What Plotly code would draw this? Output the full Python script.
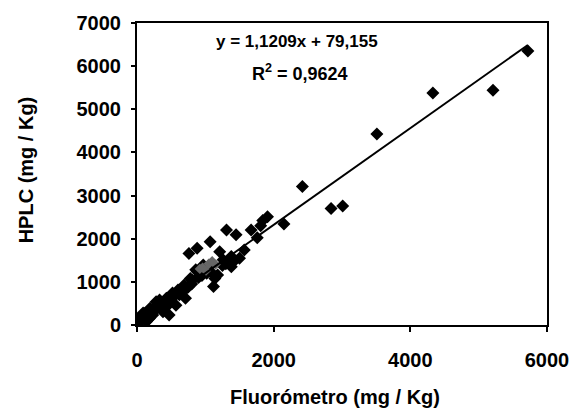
import plotly.graph_objects as go

# Data (Fluorómetro vs HPLC, mg/Kg)
fluor_x = [5720, 5210, 4330, 3510, 3010, 2840, 2420, 2150, 1910, 1840, 1810, 1670,
           1760, 1570, 1450, 1310, 1500, 1380, 1380, 1260, 1210, 1070, 880, 760,
           1070, 970, 880, 1020, 1140, 1120, 780, 690, 1180, 860, 810, 660, 520,
           430, 280, 190, 120, 70, 140, 380, 570, 710, 470, 330, 230, 90, 40, 600,
           950, 1000, 1050, 1100, 920, 30, 60, 200, 250,
           300, 350, 420, 500, 550, 620, 680, 750, 800, 900, 950, 150, 200, 100,
           180, 260, 450, 1300, 1420, 1250]
hplc_y = [6350, 5440, 5380, 4430, 2760, 2700, 3210, 2340, 2510, 2420, 2300, 2200,
          2020, 1740, 2090, 2200, 1550, 1590, 1350, 1510, 1700, 1930, 1780, 1660,
          1390, 1390, 1240, 1200, 1080, 890, 1080, 930, 1160, 1280, 1040, 850, 740,
          620, 540, 390, 270, 120, 80, 310, 460, 620, 230, 580, 230, 280, 80, 810,
          1300, 1250, 1350, 1200, 1150, 150, 200, 200, 330,
          400, 500, 520, 600, 680, 700, 780, 880, 950, 1100, 1150, 300, 300, 150,
          150, 420, 450, 1420, 1480, 1380]

# overlapping core of the dense cluster (appears grey in the scan)
core_x = [960, 1010, 1050, 920, 1100, 1150]
core_y = [1330, 1260, 1420, 1300, 1480, 1400]

slope = 1.1209
intercept = 79.155
r2 = 0.9624

x_ticks = [0, 2000, 4000, 6000]
y_ticks = [0, 1000, 2000, 3000, 4000, 5000, 6000, 7000]

FONT = "Liberation Sans, Arial, sans-serif"

fig = go.Figure()

fig.add_trace(go.Scatter(
    x=fluor_x, y=hplc_y, mode="markers",
    marker=dict(symbol="diamond", size=10, color="black", line=dict(width=0)),
    showlegend=False, hoverinfo="x+y"))

fig.add_trace(go.Scatter(
    x=core_x, y=core_y, mode="markers",
    marker=dict(symbol="diamond", size=8, color="#666666", line=dict(width=0)),
    showlegend=False, hoverinfo="x+y"))

xmin, xmax = min(fluor_x), max(fluor_x)
fig.add_trace(go.Scatter(
    x=[xmin, xmax], y=[slope * xmin + intercept, slope * xmax + intercept],
    mode="lines", line=dict(color="black", width=2),
    showlegend=False, hoverinfo="skip"))

eq_text = "y = " + f"{slope:.4f}".replace(".", ",") + "x + " + f"{intercept:.3f}".replace(".", ",")
r2_text = "R<sup>2</sup> = " + f"{r2:.4f}".replace(".", ",")

fig.update_layout(
    width=581, height=408,
    margin=dict(l=137, r=25, t=23, b=83),
    paper_bgcolor="white", plot_bgcolor="white",
    font=dict(family=FONT, size=18, color="black"),
    xaxis=dict(range=[0, 6000], tickvals=x_ticks, ticktext=[str(v) for v in x_ticks],
               showgrid=False, zeroline=False, showline=True, linecolor="black",
               linewidth=2, mirror=True, ticks="outside", ticklen=5, tickwidth=2,
               tickcolor="black", ticklabelstandoff=11,
               tickfont=dict(family=FONT, size=20, color="black", weight="bold")),
    yaxis=dict(range=[0, 7000], tickvals=y_ticks, ticktext=[str(v) for v in y_ticks],
               showgrid=False, zeroline=False, showline=True, linecolor="black",
               linewidth=2, mirror=True, ticks="outside", ticklen=4, tickwidth=2,
               tickcolor="black", ticklabelstandoff=6,
               tickfont=dict(family=FONT, size=20, color="black", weight="bold")),
    annotations=[
        dict(text=eq_text, x=2335, y=6566, xref="x", yref="y", showarrow=False,
             xanchor="center", yanchor="middle",
             font=dict(family=FONT, size=17, color="black", weight="bold")),
        dict(text=r2_text, x=2378, y=5847, xref="x", yref="y", showarrow=False,
             xanchor="center", yanchor="middle",
             font=dict(family=FONT, size=18, color="black", weight="bold")),
        dict(text="Fluorómetro (mg / Kg)", x=0.484, y=-0.238, xref="paper", yref="paper",
             showarrow=False, xanchor="center", yanchor="middle",
             font=dict(family=FONT, size=20, color="black", weight="bold")),
        dict(text="HPLC (mg / Kg)", x=-0.27, y=0.513, xref="paper", yref="paper",
             showarrow=False, xanchor="center", yanchor="middle", textangle=-90,
             font=dict(family=FONT, size=20, color="black", weight="bold")),
    ],
)

fig.write_html("out.html")
